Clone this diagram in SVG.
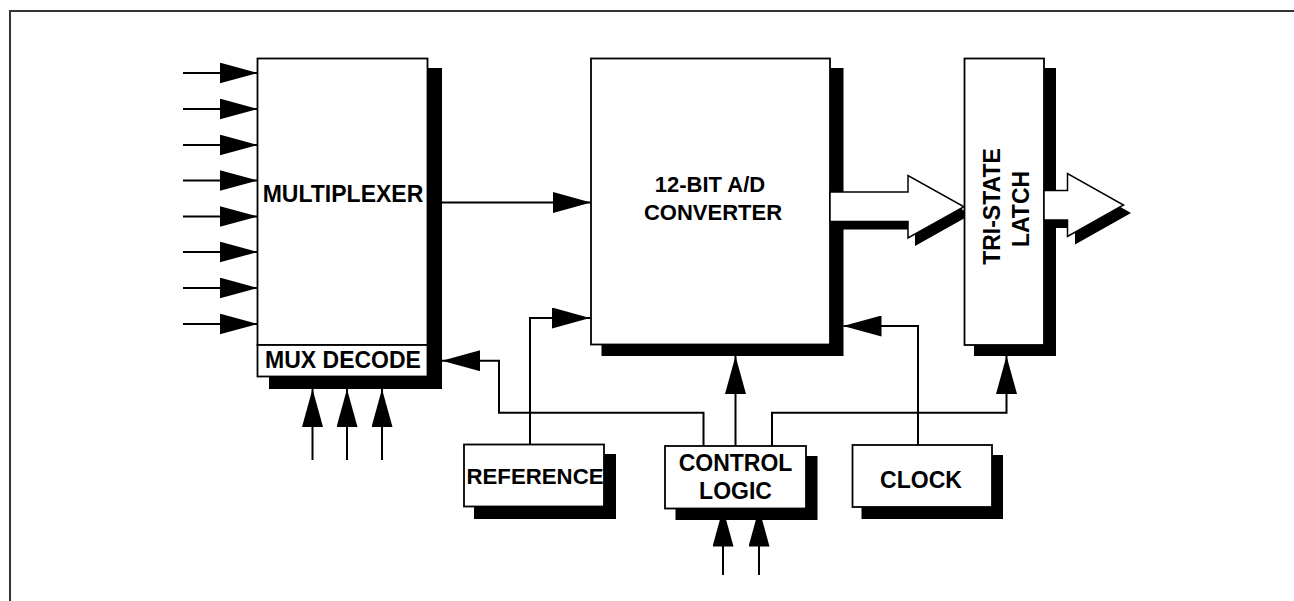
<svg xmlns="http://www.w3.org/2000/svg" width="1294" height="601" viewBox="0 0 1294 601">
<style>
.box{fill:#fff;stroke:#000;stroke-width:1.8}
.sh{fill:#000}
.ln{fill:none;stroke:#000;stroke-width:2;marker-end:url(#ah)}
.pl{fill:none;stroke:#000;stroke-width:2}
.t{font-family:"Liberation Sans",Arial,sans-serif;font-weight:bold;font-size:23px;fill:#000;text-anchor:middle}
.t22{font-size:22px}
.bus{fill:#fff;stroke:#000;stroke-width:1.5}
</style>
<defs>
<marker id="ah" viewBox="0 0 38 21" refX="38" refY="10.5" markerWidth="38" markerHeight="21" markerUnits="userSpaceOnUse" orient="auto">
<path d="M0,0 L38,10.5 L0,21 Z" fill="#000"/>
</marker>
<clipPath id="cl1"><rect x="0" y="0" width="964" height="601"/></clipPath>
</defs>
<rect x="0" y="0" width="1294" height="601" fill="#fff"/>
<path d="M10,601 V11 H1294" fill="none" stroke="#333" stroke-width="2"/>

<g id="mux">
<rect class="sh" x="269" y="68" width="173" height="321"/>
<rect class="box" x="257.5" y="58.5" width="170" height="286.5"/>
<rect class="box" x="257.5" y="345" width="170" height="31.5"/>
<text class="t" x="343" y="201.5">MULTIPLEXER</text>
<text class="t" x="343" y="367.5">MUX DECODE</text>
</g>

<g id="adc">
<rect class="sh" x="601.5" y="68" width="242" height="288"/>
<rect class="box" x="591" y="58.5" width="239" height="286"/>
<text class="t t22" x="710" y="191.5">12-BIT A/D</text>
<text class="t t22" x="713" y="220">CONVERTER</text>
</g>

<g id="latch">
<rect class="sh" x="974" y="68" width="82" height="288"/>
<rect class="box" x="964.5" y="58.5" width="79.5" height="286.5"/>
<text class="t" transform="translate(999.5,206.5) rotate(-90)">TRI-STATE</text>
<text class="t" transform="translate(1029,209) rotate(-90)">LATCH</text>
</g>

<g id="reference">
<rect class="sh" x="474" y="454" width="142" height="65"/>
<rect class="box" x="464" y="444.5" width="140" height="62"/>
<text class="t t22" x="535" y="484" textLength="137" lengthAdjust="spacingAndGlyphs">REFERENCE</text>
</g>

<g id="control">
<rect class="sh" x="675.5" y="456" width="142" height="64"/>
<rect class="box" x="665" y="446" width="141" height="62.5"/>
<text class="t" x="735.5" y="470.5">CONTROL</text>
<text class="t" x="735.5" y="499">LOGIC</text>
</g>

<g id="clock">
<rect class="sh" x="861.5" y="455" width="141.5" height="64"/>
<rect class="box" x="852.5" y="445" width="139.5" height="62"/>
<text class="t" x="921" y="487.5">CLOCK</text>
</g>

<g id="connectors">
<!-- multiplexer inputs -->
<line class="ln" x1="183" y1="73" x2="257.5" y2="73"/>
<line class="ln" x1="183" y1="109" x2="257.5" y2="109"/>
<line class="ln" x1="183" y1="145" x2="257.5" y2="145"/>
<line class="ln" x1="183" y1="180.5" x2="257.5" y2="180.5"/>
<line class="ln" x1="183" y1="216.5" x2="257.5" y2="216.5"/>
<line class="ln" x1="183" y1="252" x2="257.5" y2="252"/>
<line class="ln" x1="183" y1="288" x2="257.5" y2="288"/>
<line class="ln" x1="183" y1="324" x2="257.5" y2="324"/>
<!-- mux decode inputs -->
<line class="ln" x1="312.5" y1="460" x2="312.5" y2="389"/>
<line class="ln" x1="347" y1="460" x2="347" y2="389"/>
<line class="ln" x1="382" y1="460" x2="382" y2="389"/>
<!-- mux to adc -->
<line class="ln" x1="442" y1="202.5" x2="591" y2="202.5"/>
<!-- reference to adc -->
<polyline class="ln" points="530,444.5 530,318 590,318"/>
<!-- control to mux decode -->
<polyline class="ln" points="703.5,446 703.5,412.7 499,412.7 499,360.7 442,360.7"/>
<!-- control to adc -->
<line class="ln" x1="735.5" y1="446" x2="735.5" y2="356"/>
<!-- control to latch -->
<polyline class="ln" points="772,446 772,412.7 1006.5,412.7 1006.5,356"/>
<!-- clock to adc -->
<polyline class="ln" points="918,445 918,326 843.5,326"/>
<!-- control logic inputs -->
<line class="ln" x1="723" y1="575" x2="723" y2="508.5"/>
<line class="ln" x1="759" y1="575" x2="759" y2="508.5"/>
<!-- bus arrow adc to latch -->
<polygon class="sh" clip-path="url(#cl1)" points="837,199.5 915,199.5 915,183 971,214.5 915,246 915,229.5 837,229.5"/>
<polygon class="bus" points="830,192 908,192 908,175.5 964,206.75 908,238 908,221.5 830,221.5"/>
<!-- bus arrow latch out -->
<polygon class="sh" points="1051.5,198.5 1075,198.5 1075,181.5 1131,213 1075,244.5 1075,228 1051.5,228"/>
<polygon class="bus" points="1044,190.5 1067.5,190.5 1067.5,173.5 1123.5,205 1067.5,236.5 1067.5,220 1044,220"/>
</g>
</svg>
